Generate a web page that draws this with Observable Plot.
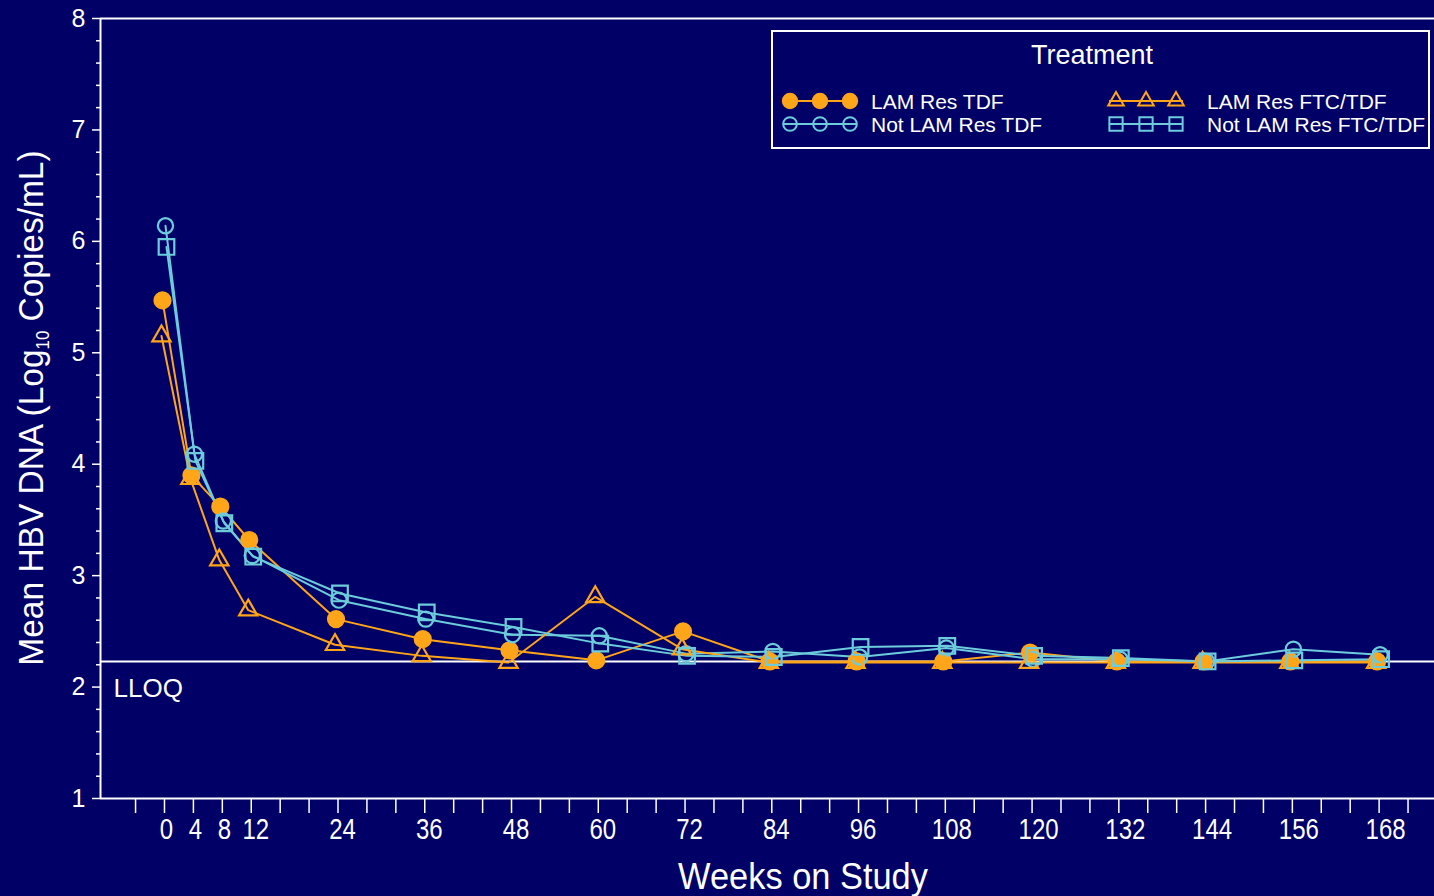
<!DOCTYPE html>
<html><head><meta charset="utf-8">
<script src="https://cdn.jsdelivr.net/npm/d3@7"></script>
<script src="https://cdn.jsdelivr.net/npm/@observablehq/plot@0.6"></script>
<style>
html,body{margin:0;padding:0;background:#000066;}
#chart{position:relative;width:1434px;height:896px;overflow:hidden;}
</style></head><body><div id="chart"></div>
<script>
// ---- data ----
const weeks = [0,4,8,12,24,36,48,60,72,84,96,108,120,132,144,156,168];
const lamResTDF    = [5.47,3.90,3.62,3.32,2.61,2.43,2.33,2.24,2.50,2.23,2.23,2.23,2.31,2.23,2.23,2.23,2.23];
const notLamResTDF = [6.14,4.09,3.49,3.18,2.78,2.61,2.47,2.46,2.30,2.32,2.27,2.35,2.25,2.25,2.23,2.34,2.29];
const lamResFTC    = [5.15,3.87,3.14,2.69,2.38,2.28,2.22,2.81,2.34,2.22,2.22,2.22,2.22,2.22,2.22,2.22,2.22];
const notLamResFTC = [5.95,4.03,3.47,3.17,2.84,2.67,2.54,2.39,2.28,2.27,2.36,2.37,2.28,2.26,2.23,2.24,2.25];
const seriesNames = ["LAM Res TDF","Not LAM Res TDF","LAM Res FTC/TDF","Not LAM Res FTC/TDF"];
const lloq = 2.23;
const lloqLabel = "LLOQ";
const xTickMarks = d3.range(-4, 173, 4);
const xTickLabels = [0,4,8,12,24,36,48,60,72,84,96,108,120,132,144,156,168];
const yMajor = [1,2,3,4,5,6,7,8];
const yMinor = d3.range(1, 8.001, 0.2).filter(v => Math.abs(v - Math.round(v)) > 0.01);
const xTitle = "Weeks on Study";
const legendTitle = "Treatment";

// ---- styles ----
const BG = "#000066", ORANGE = "#FFA51A", CYAN = "#6CCCDC", WHITE = "#FFFFFF";
const REG = "'Liberation Sans',Arial,sans-serif";
const X_MIN = -8.85, X_MAX = 175.66;

const series = [
  {name: seriesNames[0], vals: lamResTDF,    color: ORANGE, symbol: "circle",   fill: true,  r: 8,   dx: -2},
  {name: seriesNames[1], vals: notLamResTDF, color: CYAN,   symbol: "circle",   fill: false, r: 7.6, dx: 1},
  {name: seriesNames[2], vals: lamResFTC,    color: ORANGE, symbol: "triangle", fill: false, r: 6.8, dx: -3},
  {name: seriesNames[3], vals: notLamResFTC, color: CYAN,   symbol: "square",   fill: false, r: 8.8, dx: 2}
];
const rows = s => weeks.map((w, i) => ({week: w, value: s.vals[i], series: s.name}));

const lineMarks = [];
const dotMarks = [];
for (const s of series) {
  lineMarks.push(Plot.line(rows(s), {x: "week", y: "value", stroke: s.color, strokeWidth: 2, dx: s.dx}));
  dotMarks.push(Plot.dot(rows(s), {x: "week", y: "value", symbol: () => s.symbol, r: s.r, dx: s.dx,
    stroke: s.color, strokeWidth: 2.2, fill: s.fill ? s.color : "none"}));
}

const chart = Plot.plot({
  width: 1434, height: 896,
  marginLeft: 100, marginRight: 0, marginTop: 18, marginBottom: 98,
  style: {background: BG, color: WHITE, fontFamily: REG, overflow: "visible"},
  x: {domain: [X_MIN, X_MAX], axis: null},
  y: {domain: [1, 8], axis: null},
  symbol: {type: "identity"},
  marks: [
    Plot.ruleY([lloq], {stroke: WHITE, strokeWidth: 2}),
    Plot.text([lloqLabel], {frameAnchor: "left", y: () => lloq, text: d => d, dx: 13, dy: 27,
      fill: WHITE, fontSize: 26, fontFamily: REG, textAnchor: "start"}),
    ...lineMarks,
    ...dotMarks,
    Plot.ruleY([8], {stroke: WHITE, strokeWidth: 2}),
    Plot.ruleY([1], {stroke: WHITE, strokeWidth: 2}),
    Plot.ruleX([X_MIN], {y1: 1, y2: 8, stroke: WHITE, strokeWidth: 2}),
    Plot.axisY(yMajor, {anchor: "left", tickSize: 8, tickPadding: 7, tickFormat: d => String(d),
      fontSize: 25, fontFamily: REG, label: null, stroke: WHITE, strokeWidth: 1.5}),
    Plot.axisY(yMinor, {anchor: "left", tickSize: 4, tickFormat: () => "", label: null, stroke: WHITE, strokeWidth: 1.5}),
    Plot.axisX(xTickMarks, {anchor: "bottom", tickSize: 15, tickFormat: () => "", label: null, stroke: WHITE, strokeWidth: 1.5}),
    Plot.axisX(xTickLabels, {anchor: "bottom", tickSize: 0, tickPadding: 19, tickFormat: d => String(d),
      fontSize: 30, fontFamily: REG, label: null})
  ]
});
document.getElementById("chart").appendChild(chart);

const svg = d3.select(chart);
// condense x tick labels (narrow face) around each label's own centre, with the small
// rightward offset the original labels show
const labelSet = new Set(xTickLabels.map(String));
const shiftByLen = {1: 2, 2: 4.5, 3: 6.5};
svg.selectAll("text").each(function() {
  const r = this.getBoundingClientRect();
  const txt = this.textContent.trim();
  if (r.top > 805 && r.top < 850 && labelSet.has(txt)) {
    const b = this.getBBox();
    const cx = b.x + b.width / 2;
    const tr = this.getAttribute("transform") || "";
    this.setAttribute("transform", `${tr} translate(${cx + shiftByLen[txt.length]},0) scale(0.8,1) translate(${-cx},0)`);
  }
});

// y title with subscript
const yt = svg.append("text")
  .attr("transform", "translate(43,408) rotate(-90) scale(0.93,1)")
  .attr("text-anchor", "middle")
  .attr("fill", WHITE).style("font-family", REG).style("font-size", "36px");
yt.append("tspan").text("Mean HBV DNA (Log");
yt.append("tspan").text("10").style("font-size", "18px").attr("dy", "6");
yt.append("tspan").text("\u00A0Copies/mL)").attr("dy", "-6");

svg.append("text").attr("transform", "translate(803,889) scale(0.93,1)").attr("text-anchor", "middle")
  .attr("fill", WHITE).style("font-family", REG).style("font-size", "37px").text(xTitle);

// legend box
const lg = svg.append("g").attr("text-anchor", "start");
lg.append("rect").attr("x", 772).attr("y", 31).attr("width", 657).attr("height", 117)
  .attr("fill", BG).attr("stroke", WHITE).attr("stroke-width", 2);
lg.append("text").attr("x", 1092).attr("y", 64).attr("text-anchor", "middle")
  .attr("fill", WHITE).style("font-family", REG).style("font-size", "27px").text(legendTitle);
const legendPos = [
  {sx: 790, tx: 871, y: 101},
  {sx: 790, tx: 871, y: 124},
  {sx: 1116, tx: 1207, y: 101},
  {sx: 1116, tx: 1207, y: 124}
];
series.forEach((s, i) => {
  const p = legendPos[i];
  lg.append("line").attr("x1", p.sx - 7).attr("x2", p.sx + 67).attr("y1", p.y).attr("y2", p.y)
    .attr("stroke", s.color).attr("stroke-width", 2);
  const sym = {circle: d3.symbolCircle, triangle: d3.symbolTriangle, square: d3.symbolSquare}[s.symbol];
  const rr = s.symbol === "circle" ? s.r * 0.9 : s.r * 0.85;
  for (let k = 0; k < 3; k++) {
    lg.append("path").attr("d", d3.symbol(sym, Math.PI * rr * rr)())
      .attr("transform", `translate(${p.sx + k * 30},${p.y})`)
      .attr("stroke", s.color).attr("stroke-width", 2).attr("fill", s.fill ? s.color : "none");
  }
  lg.append("text").attr("x", p.tx).attr("y", p.y + 8).attr("text-anchor", "start").attr("fill", WHITE)
    .style("font-family", REG).style("font-size", "21px").text(s.name);
});
</script></body></html>
